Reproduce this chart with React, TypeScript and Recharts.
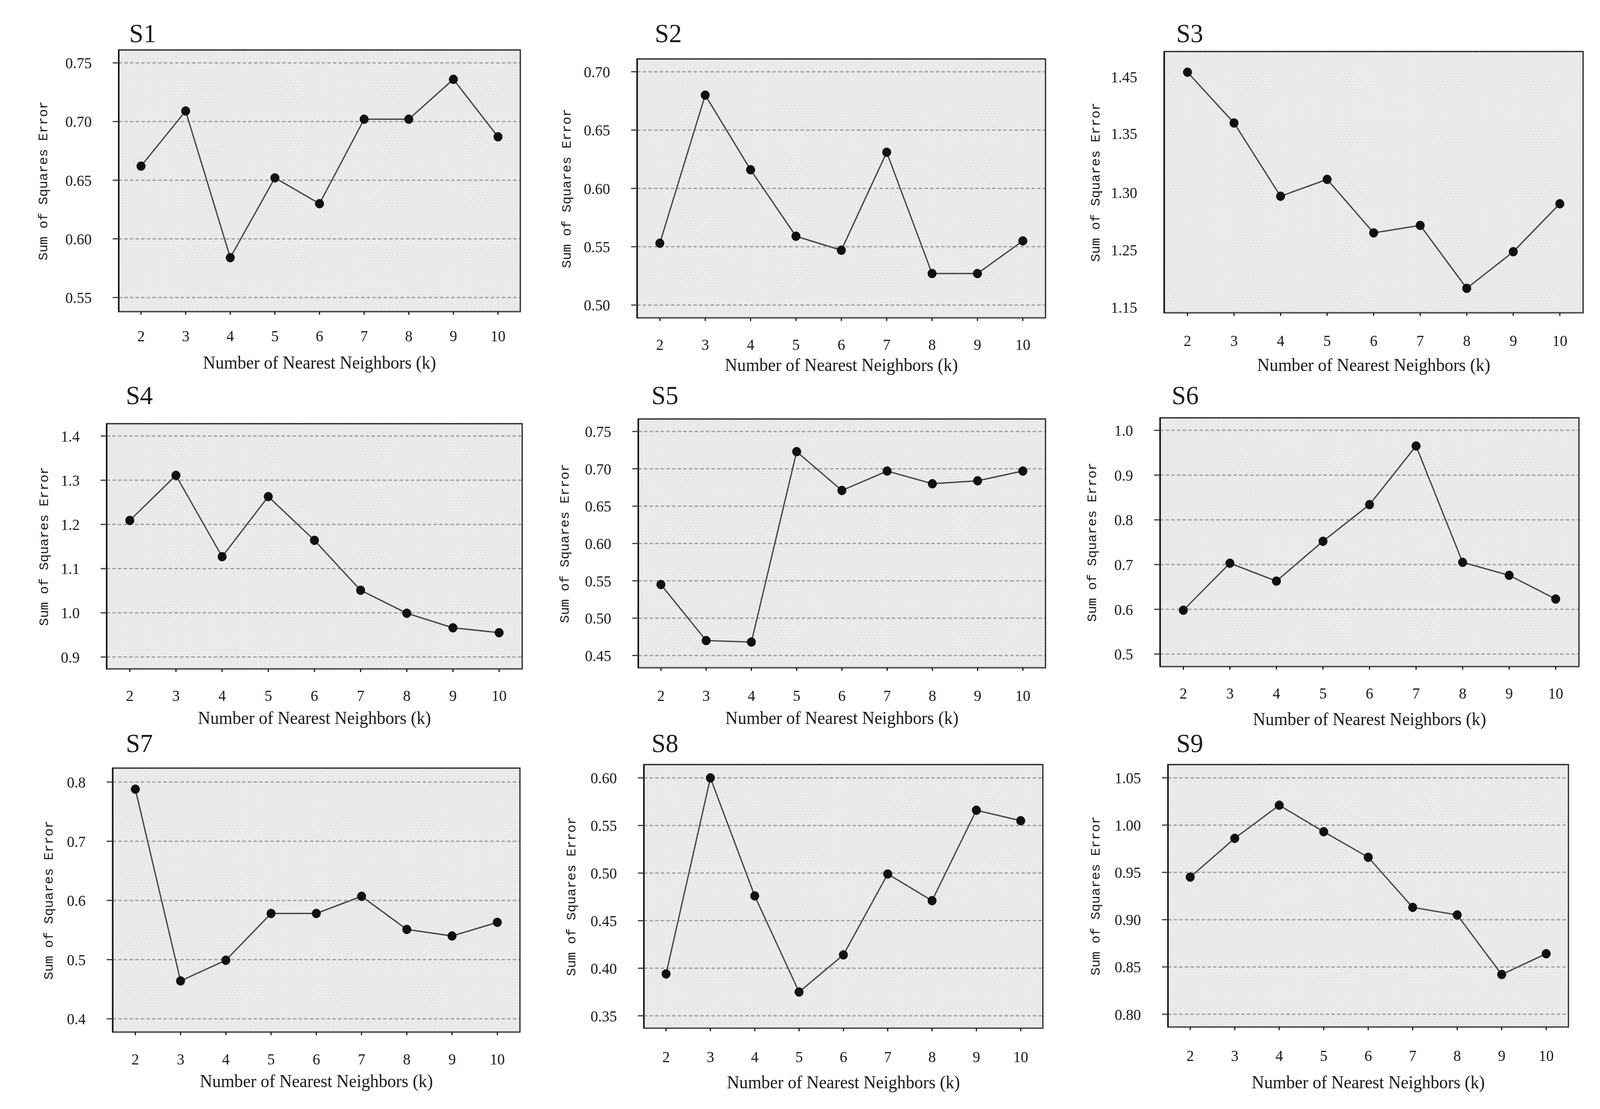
import React from 'react';
import { LineChart, Line, XAxis, YAxis, CartesianGrid, ReferenceLine, ReferenceArea } from 'recharts';

// k on the x axis, shared by every panel
const kValues = [2, 3, 4, 5, 6, 7, 8, 9, 10];

// Sum of squares error per k
const s1Values = [0.662, 0.709, 0.584, 0.652, 0.63, 0.702, 0.702, 0.736, 0.687];
const s2Values = [0.553, 0.68, 0.616, 0.559, 0.547, 0.631, 0.527, 0.527, 0.555];
const s3Values = [1.442, 1.388, 1.31, 1.328, 1.271, 1.279, 1.212, 1.251, 1.302];
const s4Values = [1.209, 1.311, 1.127, 1.263, 1.164, 1.051, 0.999, 0.966, 0.955];
const s5Values = [0.545, 0.47, 0.468, 0.723, 0.671, 0.697, 0.68, 0.684, 0.697];
const s6Values = [0.598, 0.703, 0.663, 0.752, 0.834, 0.965, 0.705, 0.676, 0.623];
const s7Values = [0.788, 0.464, 0.499, 0.578, 0.578, 0.607, 0.551, 0.54, 0.563];
const s8Values = [0.394, 0.6, 0.476, 0.375, 0.414, 0.499, 0.471, 0.566, 0.555];
const s9Values = [0.945, 0.986, 1.021, 0.993, 0.966, 0.913, 0.905, 0.842, 0.864];

// y ticks / gridlines
const s1Ticks = [0.55, 0.6, 0.65, 0.7, 0.75];
const s2Ticks = [0.5, 0.55, 0.6, 0.65, 0.7];
const s3Ticks = [1.2, 1.25, 1.3, 1.35, 1.4, 1.45];
const s4Ticks = [0.9, 1.0, 1.1, 1.2, 1.3, 1.4];
const s5Ticks = [0.45, 0.5, 0.55, 0.6, 0.65, 0.7, 0.75];
const s6Ticks = [0.5, 0.6, 0.7, 0.8, 0.9, 1.0];
const s7Ticks = [0.4, 0.5, 0.6, 0.7, 0.8];
const s8Ticks = [0.35, 0.4, 0.45, 0.5, 0.55, 0.6];
const s9Ticks = [0.8, 0.85, 0.9, 0.95, 1.0, 1.05];

// S3 prints its tick labels off the gridlines
const s3LabelAt = [1.437, 1.377, 1.314, 1.253, 1.192];
const s3LabelText = ['1.45', '1.35', '1.30', '1.25', '1.15'];

const PAGE_W = 4259;
const PAGE_H = 2840;
const PAD_L = 280;
const PAD_R = 30;
const PAD_T = 70;
const PAD_B = 190;
const X_AXIS_H = 100;
const X_DOMAIN = [1.5, 10.5];

const SERIF = '"Liberation Serif", "DejaVu Serif", serif';
const MONO = '"Liberation Mono", "DejaVu Sans Mono", monospace';

const panels = [
  { title: 'S1', values: s1Values, ticks: s1Ticks, domain: [0.538, 0.761], decimals: 2, box: [316, 128, 1385, 798], yLabelGap: 202, tickGap: 48, labelGap: 113, titleAt: [344, 108] },
  { title: 'S2', values: s2Values, ticks: s2Ticks, domain: [0.489, 0.711], decimals: 2, box: [1696, 151, 2783, 814], yLabelGap: 189, tickGap: 54, labelGap: 103, titleAt: [1743, 108] },
  { title: 'S3', values: s3Values, ticks: s3Ticks, domain: [1.186, 1.464], decimals: 2, box: [3099, 132, 4214, 801], yLabelGap: 184, tickGap: 57, labelGap: 116, titleAt: [3131, 108], labelAt: s3LabelAt, labelText: s3LabelText },
  { title: 'S4', values: s4Values, ticks: s4Ticks, domain: [0.873, 1.428], decimals: 1, box: [284, 1085, 1390, 1713], yLabelGap: 168, tickGap: 54, labelGap: 108, titleAt: [335, 1035] },
  { title: 'S5', values: s5Values, ticks: s5Ticks, domain: [0.4336, 0.7667], decimals: 2, box: [1699, 1073, 2783, 1710], yLabelGap: 197, tickGap: 57, labelGap: 111, titleAt: [1734, 1035] },
  { title: 'S6', values: s6Values, ticks: s6Ticks, domain: [0.472, 1.028], decimals: 1, box: [3088, 1070, 4203, 1707], yLabelGap: 182, tickGap: 54, labelGap: 117, titleAt: [3119, 1035] },
  { title: 'S7', values: s7Values, ticks: s7Ticks, domain: [0.3776, 0.8236], decimals: 1, box: [300, 1967, 1384, 2643], yLabelGap: 172, tickGap: 55, labelGap: 108, titleAt: [335, 1926] },
  { title: 'S8', values: s8Values, ticks: s8Ticks, domain: [0.337, 0.614], decimals: 2, box: [1714, 1958, 2776, 2633], yLabelGap: 194, tickGap: 59, labelGap: 121, titleAt: [1734, 1926] },
  { title: 'S9', values: s9Values, ticks: s9Ticks, domain: [0.7865, 1.064], decimals: 2, box: [3109, 1958, 4175, 2630], yLabelGap: 194, tickGap: 59, labelGap: 124, titleAt: [3131, 1926] },
];

type PanelCfg = (typeof panels)[number] & { labelAt?: number[]; labelText?: string[] };

function Panel({ p, idx }: { p: PanelCfg; idx: number }) {
  const [left, top, right, bottom] = p.box;
  const width = right - left + PAD_L + PAD_R;
  const height = bottom - top + PAD_T + PAD_B;
  const data = kValues.map((k, i) => ({ k, sse: p.values[i] }));
  const ownLabels = !!p.labelAt;
  const tickStyle = { fill: '#1c1c1c', fontSize: 40, fontFamily: SERIF };

  return (
    <div style={{ position: 'absolute', left: left - PAD_L, top: top - PAD_T }}>
      <LineChart
        width={width}
        height={height}
        data={data}
        margin={{ top: PAD_T, right: PAD_R, bottom: PAD_B - X_AXIS_H, left: 0 }}
      >
        <defs>
          <pattern id={`dots${idx}`} width={7} height={7} patternUnits="userSpaceOnUse">
            <rect width={7} height={7} fill="#efefef" />
            <rect x={0} y={0} width={2} height={2} fill="#c9c9c9" />
            <rect x={3.5} y={3.5} width={2} height={2} fill="#d2d2d2" />
          </pattern>
        </defs>
        <CartesianGrid
          vertical={false}
          fill={`url(#dots${idx})`}
          fillOpacity={1}
          stroke="#999999"
          strokeWidth={3}
          strokeDasharray="9 6"
        />
        <XAxis
          dataKey="k"
          type="number"
          domain={X_DOMAIN}
          ticks={kValues}
          allowDataOverflow
          height={X_AXIS_H}
          tickSize={8}
          tickMargin={p.tickGap - 8}
          tick={tickStyle}
          tickLine={{ stroke: '#111111', strokeWidth: 3 }}
          axisLine={{ stroke: '#555555', strokeWidth: 4 }}
          label={{
            value: 'Number of Nearest Neighbors (k)',
            position: 'bottom',
            offset: p.labelGap - X_AXIS_H,
            fill: '#1c1c1c',
            fontSize: 46,
            fontFamily: SERIF,
          }}
        />
        <YAxis
          type="number"
          domain={p.domain}
          ticks={p.ticks}
          allowDataOverflow
          width={PAD_L}
          tickSize={16}
          tickMargin={56}
          tick={ownLabels ? false : tickStyle}
          tickFormatter={(v: number) => v.toFixed(p.decimals)}
          tickLine={{ stroke: '#3a3a3a', strokeWidth: 3 }}
          axisLine={{ stroke: '#111111', strokeWidth: 4 }}
          label={{
            value: 'Sum of Squares Error',
            angle: -90,
            position: 'insideLeft',
            offset: PAD_L - p.yLabelGap,
            style: { textAnchor: 'middle' },
            fill: '#1c1c1c',
            fontSize: 34,
            fontFamily: MONO,
          }}
        />
        {/* dark frame round the plot area */}
        <ReferenceArea
          x1={X_DOMAIN[0]}
          x2={X_DOMAIN[1]}
          y1={p.domain[0]}
          y2={p.domain[1]}
          fill="none"
          fillOpacity={0}
          stroke="#333333"
          strokeWidth={3.5}
          ifOverflow="visible"
        />
        {ownLabels &&
          p.labelAt!.map((v, i) => (
            <ReferenceLine
              key={i}
              y={v}
              stroke="none"
              label={{
                value: p.labelText![i],
                position: 'left',
                offset: 72,
                fill: '#1c1c1c',
                fontSize: 40,
                fontFamily: SERIF,
              }}
            />
          ))}
        <Line
          type="linear"
          dataKey="sse"
          stroke="#474747"
          strokeWidth={3.5}
          dot={{ r: 11.5, fill: '#111111', stroke: '#111111', strokeWidth: 1 }}
          activeDot={false}
          isAnimationActive={false}
        />
      </LineChart>
    </div>
  );
}

export default function App() {
  // fit the 4259x2840 figure into whatever viewport the page actually got
  const vw = typeof window !== 'undefined' ? window.innerWidth : PAGE_W;
  const vh = typeof window !== 'undefined' ? window.innerHeight : PAGE_H;
  const sx = Math.min(1, vw / PAGE_W);
  const sy = Math.min(1, vh / PAGE_H);

  return (
    <div style={{ position: 'fixed', left: 0, top: 0, width: vw, height: vh, overflow: 'hidden', background: '#ffffff' }}>
      <div
        style={{
          position: 'absolute',
          left: 0,
          top: 0,
          width: PAGE_W,
          height: PAGE_H,
          background: '#ffffff',
          transform: `scale(${sx}, ${sy})`,
          transformOrigin: '0 0',
        }}
      >
        {panels.map((p, i) => (
          <Panel key={p.title} p={p as PanelCfg} idx={i} />
        ))}
        <svg width={PAGE_W} height={PAGE_H} style={{ position: 'absolute', left: 0, top: 0, pointerEvents: 'none' }}>
          {panels.map((p) => (
            <text key={p.title} x={p.titleAt[0]} y={p.titleAt[1]} fontFamily={SERIF} fontSize={68} fill="#1c1c1c">
              {p.title}
            </text>
          ))}
        </svg>
      </div>
    </div>
  );
}
